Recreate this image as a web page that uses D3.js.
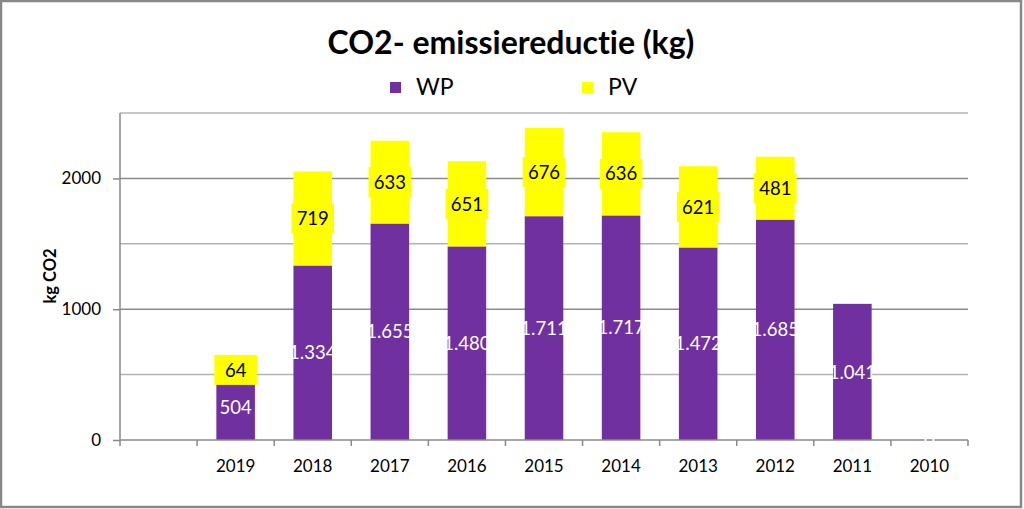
<!DOCTYPE html>
<html><head><meta charset="utf-8">
<script src="https://cdn.jsdelivr.net/npm/d3@7"></script>
<style>html,body{margin:0;padding:0;background:#fff;}svg{display:block;}text{font-variant-ligatures:none;font-feature-settings:"liga" 0;}</style>
</head><body>
<svg id="c" width="1024" height="509"></svg>
<script>
const categories = ["", "2019", "2018", "2017", "2016", "2015", "2014", "2013", "2012", "2011", "2010"];
const wpValues = [null, 504, 1334, 1655, 1480, 1711, 1717, 1472, 1685, 1041, 0];
const pvValues = [null, 64, 719, 633, 651, 676, 636, 621, 481, null, null];
const wpLabels = ["", "504", "1.334", "1.655", "1.480", "1.711", "1.717", "1.472", "1.685", "1.041", "0"];
const pvLabels = ["", "64", "719", "633", "651", "676", "636", "621", "481", "", ""];
const yTicks = [0, 1000, 2000];
const gridValues = [500, 1000, 1500, 2000, 2500];
const seriesNames = ["WP", "PV"];
const colors = ["#7030A0", "#FFFF00"];

const font = "Lato, 'Open Sans', sans-serif";
const svg = d3.select("#c");
svg.append("rect").attr("x", 1).attr("y", 1).attr("width", 1020).attr("height", 506)
  .attr("fill", "#fff").attr("stroke", "#888").attr("stroke-width", 2.5);

const x = d3.scaleBand().domain(categories).range([120, 968]).paddingInner(0.5).paddingOuter(0.25);
const y = d3.scaleLinear().domain([0, 2500]).range([440, 113]);

// gridlines
svg.append("g").selectAll("line").data(gridValues).join("line")
  .attr("x1", 120).attr("x2", 968)
  .attr("y1", d => y(d)).attr("y2", d => y(d))
  .attr("stroke", d => d % 1000 === 0 ? "#8a8a8a" : "#b4b4b4").attr("stroke-width", 1.5);

// y axis
const yAxis = svg.append("g").attr("transform", "translate(120,0)")
  .call(d3.axisLeft(y).tickValues(yTicks).tickSize(7).tickPadding(12).tickFormat(d3.format("d")));
yAxis.select(".domain").attr("stroke", "#8a8a8a").attr("stroke-width", 1.5).attr("d", "M0," + y(2500) + "V" + y(0));
yAxis.selectAll(".tick line").attr("stroke", "#8a8a8a").attr("stroke-width", 1.5);
yAxis.selectAll("text").attr("font-family", font).attr("font-size", 17).attr("fill", "#000");

// bars
const data = categories.map((c, i) => ({c, wp: wpValues[i] || 0, pv: pvValues[i] || 0, wl: wpLabels[i], pl: pvLabels[i]}));
const gBars = svg.append("g");
gBars.selectAll("rect.wp").data(data.filter(d => d.wp > 0)).join("rect").attr("class", "wp")
  .attr("x", d => x(d.c)).attr("width", x.bandwidth())
  .attr("y", d => y(d.wp)).attr("height", d => y(0) - y(d.wp)).attr("fill", colors[0]);
gBars.selectAll("rect.pv").data(data.filter(d => d.pv > 0)).join("rect").attr("class", "pv")
  .attr("x", d => x(d.c)).attr("width", x.bandwidth())
  .attr("y", d => y(d.wp + d.pv)).attr("height", d => y(d.wp) - y(d.wp + d.pv)).attr("fill", colors[1]);

// x axis
const ticksX = d3.range(categories.length + 1).map(i => 120 + i * x.step());
const gx = svg.append("g");
gx.append("line").attr("x1", 120).attr("x2", 968).attr("y1", y(0)).attr("y2", y(0)).attr("stroke", "#8a8a8a").attr("stroke-width", 1.5);
gx.selectAll("line.t").data(ticksX).join("line").attr("class", "t")
  .attr("x1", d => d).attr("x2", d => d).attr("y1", y(0)).attr("y2", y(0) + 6)
  .attr("stroke", "#8a8a8a").attr("stroke-width", 1.5);
gx.selectAll("text").data(categories).join("text")
  .attr("x", d => x(d) + x.bandwidth() / 2).attr("y", 472).attr("text-anchor", "middle")
  .attr("font-family", font).attr("font-size", 17).attr("fill", "#000").text(d => d);

// PV labels with background
const pvL = svg.append("g").selectAll("g").data(data.filter(d => d.pl)).join("g")
  .attr("transform", d => `translate(${x(d.c) + x.bandwidth() / 2},${(y(d.wp) + y(d.wp + d.pv)) / 2})`);
pvL.append("rect").attr("x", -x.bandwidth() / 2 - 2).attr("y", -15).attr("width", x.bandwidth() + 4).attr("height", 30)
  .attr("fill", colors[1]);
pvL.append("text").attr("text-anchor", "middle").attr("dy", "0.36em")
  .attr("font-family", font).attr("font-size", 18.5).attr("fill", "#000").text(d => d.pl);

// WP labels
svg.append("g").selectAll("text").data(data.filter(d => d.wl)).join("text")
  .attr("x", d => x(d.c) + x.bandwidth() / 2).attr("y", d => (y(0) + y(d.wp)) / 2).attr("dy", "0.36em")
  .attr("text-anchor", "middle").attr("font-family", font).attr("font-size", 18.5).attr("fill", "#fff").text(d => d.wl);

// y label
svg.append("text").attr("transform", "translate(56,276) rotate(-90)").attr("text-anchor", "middle")
  .attr("font-family", font).attr("font-weight", "bold").attr("font-size", 16.5).text("kg CO2");

// title
svg.append("text").attr("x", 511).attr("y", 54).attr("text-anchor", "middle")
  .attr("font-family", font).attr("font-weight", "bold").attr("font-size", 32).text("CO2- emissiereductie (kg)");

// legend
const leg = svg.append("g").selectAll("g").data(seriesNames).join("g")
  .attr("transform", (d, i) => `translate(${[390, 582][i]},82)`);
leg.append("rect").attr("width", 11).attr("height", 11).attr("fill", (d, i) => colors[i]);
leg.append("text").attr("x", 26).attr("y", 13).attr("font-family", font).attr("font-size", 23).text(d => d);
</script>
</body></html>
